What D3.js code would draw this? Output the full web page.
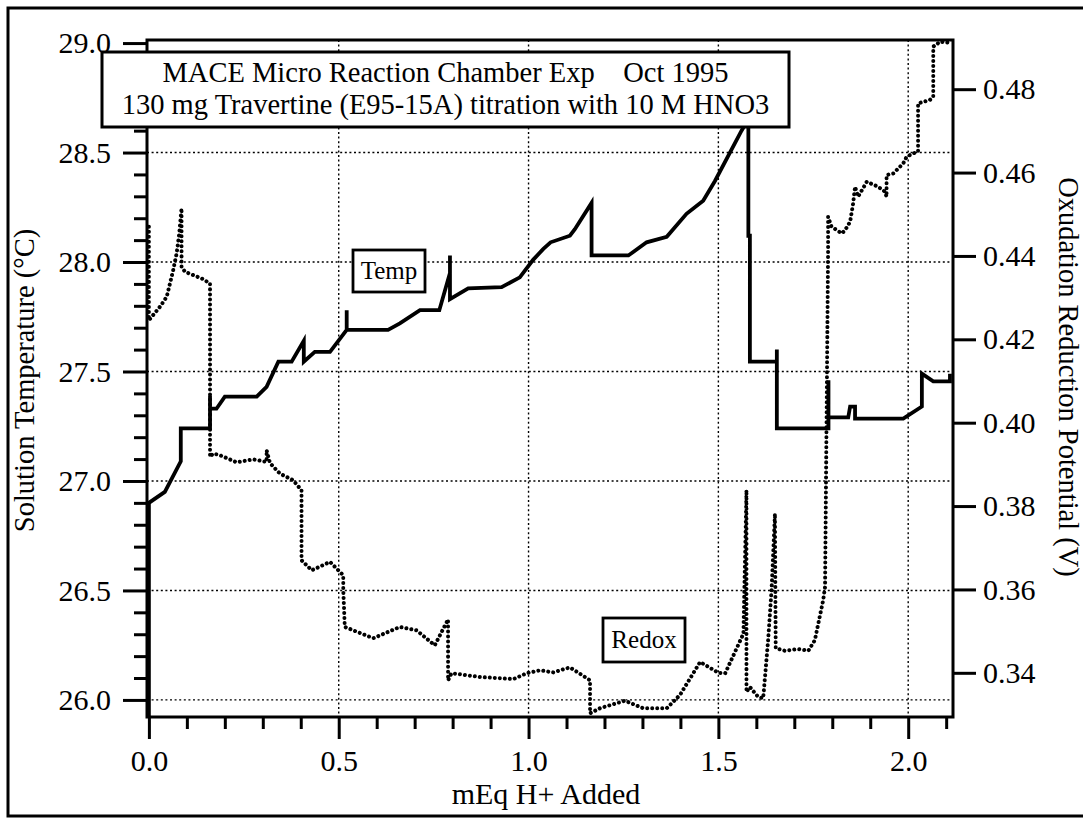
<!DOCTYPE html>
<html>
<head>
<meta charset="utf-8">
<script src="https://cdn.jsdelivr.net/npm/d3@7"></script>
<style>
  html, body { margin: 0; padding: 0; background: #fff; }
  svg { display: block; font-family: "Liberation Serif", "Times New Roman", serif; }
</style>
</head>
<body>
<div id="chart"></div>
<script>
// Titration data
const tempMeq = [0, 0, 0.042, 0.084, 0.084, 0.161, 0.161, 0.161, 0.178, 0.200, 0.284, 0.310, 0.341, 0.376, 0.408, 0.408, 0.437, 0.477, 0.521, 0.521, 0.521, 0.630, 0.661, 0.714, 0.765, 0.793, 0.793, 0.793, 0.841, 0.929, 0.977, 1.012, 1.039, 1.058, 1.109, 1.122, 1.166, 1.166, 1.263, 1.311, 1.364, 1.416, 1.460, 1.491, 1.561, 1.575, 1.579, 1.579, 1.583, 1.583, 1.654, 1.654, 1.654, 1.790, 1.790, 1.790, 1.842, 1.847, 1.860, 1.860, 1.987, 2.036, 2.036, 2.066, 2.110, 2.110];
const tempC = [25.90, 26.90, 26.95, 27.09, 27.24, 27.24, 27.39, 27.33, 27.33, 27.385, 27.385, 27.43, 27.545, 27.545, 27.64, 27.545, 27.59, 27.59, 27.69, 27.78, 27.69, 27.69, 27.72, 27.78, 27.78, 27.95, 28.03, 27.83, 27.88, 27.885, 27.93, 28.01, 28.06, 28.09, 28.12, 28.15, 28.27, 28.03, 28.03, 28.09, 28.115, 28.22, 28.28, 28.37, 28.60, 28.64, 28.64, 28.12, 28.12, 27.545, 27.545, 27.60, 27.24, 27.24, 27.46, 27.29, 27.29, 27.34, 27.34, 27.285, 27.285, 27.34, 27.49, 27.455, 27.455, 27.49];

const redoxMeq = [0, 0, 0.029, 0.047, 0.064, 0.073, 0.080, 0.086, 0.086, 0.095, 0.139, 0.161, 0.161, 0.169, 0.187, 0.231, 0.275, 0.310, 0.310, 0.319, 0.345, 0.380, 0.402, 0.402, 0.429, 0.477, 0.512, 0.512, 0.516, 0.538, 0.591, 0.661, 0.705, 0.753, 0.788, 0.788, 0.797, 0.872, 0.960, 0.995, 1.030, 1.065, 1.109, 1.162, 1.162, 1.188, 1.254, 1.302, 1.364, 1.399, 1.452, 1.500, 1.518, 1.566, 1.574, 1.574, 1.583, 1.605, 1.618, 1.631, 1.640, 1.649, 1.651, 1.675, 1.710, 1.737, 1.754, 1.776, 1.781, 1.789, 1.789, 1.798, 1.812, 1.825, 1.834, 1.847, 1.855, 1.860, 1.868, 1.891, 1.921, 1.939, 1.943, 1.943, 1.961, 1.987, 1.996, 2.013, 2.026, 2.026, 2.057, 2.066, 2.066, 2.084, 2.110];
const redoxV = [0.447, 0.4246, 0.4278, 0.4302, 0.4366, 0.4406, 0.4454, 0.4514, 0.4374, 0.4362, 0.4346, 0.4334, 0.3918, 0.3926, 0.3922, 0.3905, 0.3912, 0.3906, 0.3934, 0.3903, 0.3878, 0.3862, 0.3838, 0.3670, 0.3646, 0.3666, 0.3634, 0.3598, 0.3510, 0.3502, 0.3483, 0.3510, 0.3502, 0.3466, 0.3528, 0.3382, 0.3399, 0.3390, 0.3385, 0.3399, 0.3406, 0.3401, 0.3413, 0.3382, 0.3303, 0.3315, 0.3333, 0.3315, 0.3315, 0.3347, 0.3426, 0.3400, 0.3399, 0.3494, 0.3838, 0.3354, 0.3366, 0.3342, 0.3339, 0.3478, 0.3598, 0.3782, 0.3459, 0.3453, 0.3457, 0.3453, 0.3478, 0.3574, 0.3606, 0.4414, 0.4494, 0.4470, 0.4462, 0.4454, 0.4462, 0.4482, 0.4526, 0.4566, 0.4542, 0.4578, 0.4566, 0.4554, 0.4542, 0.4594, 0.4598, 0.4622, 0.4638, 0.4646, 0.4650, 0.4766, 0.4774, 0.4782, 0.4902, 0.4914, 0.4911];

const xMajor = [0, 0.5, 1.0, 1.5, 2.0];
const xMinor = [0.1, 0.2, 0.3, 0.4, 0.6, 0.7, 0.8, 0.9, 1.1, 1.2, 1.3, 1.4, 1.6, 1.7, 1.8, 1.9, 2.1];
const tempMajor = [26.0, 26.5, 27.0, 27.5, 28.0, 28.5, 29.0];
const tempMinor = d3.range(260, 291).filter(d => d % 5 !== 0).map(d => d / 10);
const redoxMajor = [0.34, 0.36, 0.38, 0.40, 0.42, 0.44, 0.46, 0.48];
const titleLines = ["MACE Micro Reaction Chamber Exp    Oct 1995", "130 mg Travertine (E95-15A) titration with 10 M HNO3"];

const width = 1083, height = 818;
const plot = { left: 147, right: 953, top: 40, bottom: 717 };

const svg = d3.select("#chart").append("svg")
  .attr("width", width).attr("height", height);

// outer frame (right side runs off the page like the scan)
svg.append("rect")
  .attr("x", 8).attr("y", 8).attr("width", 1100).attr("height", 808)
  .attr("fill", "none").attr("stroke", "#000").attr("stroke-width", 3);

// scales
const x = d3.scaleLinear().domain([-0.005, 2.118]).range([plot.left, plot.right]);
const yT = d3.scaleLinear().domain([25.922, 29.014]).range([plot.bottom, plot.top]);
const yR = d3.scaleLinear().domain([0.3294, 0.4918]).range([plot.bottom, plot.top]);

// grid
const grid = svg.append("g").attr("stroke", "#000").attr("stroke-width", 1.4)
  .attr("stroke-dasharray", "2 2.6");
grid.selectAll(".gx").data(xMajor.slice(1)).join("line")
  .attr("x1", d => x(d)).attr("x2", d => x(d))
  .attr("y1", plot.top).attr("y2", plot.bottom);
grid.selectAll(".gy").data(tempMajor.slice(0, -1)).join("line")
  .attr("x1", plot.left).attr("x2", plot.right)
  .attr("y1", d => yT(d)).attr("y2", d => yT(d));

// clip
svg.append("clipPath").attr("id", "clip").append("rect")
  .attr("x", plot.left).attr("y", plot.top)
  .attr("width", plot.right - plot.left).attr("height", plot.bottom - plot.top);

// Redox line (dotted)
const redoxData = redoxMeq.map((m, i) => [m, redoxV[i]]);
svg.append("path")
  .attr("clip-path", "url(#clip)")
  .attr("d", d3.line().x(d => x(d[0])).y(d => yR(d[1]))(redoxData))
  .attr("fill", "none").attr("stroke", "#000").attr("stroke-width", 4)
  .attr("stroke-linecap", "round").attr("stroke-dasharray", "0.01 5");

// Temp line (solid)
const tempData = tempMeq.map((m, i) => [m, tempC[i]]);
svg.append("path")
  .attr("clip-path", "url(#clip)")
  .attr("d", d3.line().x(d => x(d[0])).y(d => yT(d[1]))(tempData))
  .attr("fill", "none").attr("stroke", "#000").attr("stroke-width", 3.8)
  .attr("stroke-linejoin", "miter");

// axes
function styleAxis(g, size) {
  g.select(".domain").remove();
  g.selectAll(".tick line").attr("stroke-width", 3);
  g.selectAll(".tick text").attr("font-size", size).attr("fill", "#000")
    .attr("font-family", "'Liberation Serif', 'Times New Roman', serif");
}

svg.append("g").attr("transform", `translate(${plot.left},0)`)
  .call(d3.axisLeft(yT).tickValues(tempMinor).tickSize(13).tickFormat(""))
  .call(g => styleAxis(g, 30));
svg.append("g").attr("transform", `translate(${plot.left},0)`)
  .call(d3.axisLeft(yT).tickValues(tempMajor).tickSize(24).tickPadding(12).tickFormat(d3.format(".1f")))
  .call(g => styleAxis(g, 30));

svg.append("g").attr("transform", `translate(0,${plot.bottom})`)
  .call(d3.axisBottom(x).tickValues(xMinor).tickSize(12).tickFormat(""))
  .call(g => styleAxis(g, 30));
svg.append("g").attr("transform", `translate(0,${plot.bottom})`)
  .call(d3.axisBottom(x).tickValues(xMajor).tickSize(22).tickPadding(11).tickFormat(d3.format(".1f")))
  .call(g => styleAxis(g, 30));

svg.append("g").attr("transform", `translate(${plot.right},0)`)
  .call(d3.axisRight(yR).tickValues(redoxMajor).tickSize(23).tickPadding(7).tickFormat(d3.format(".2f")))
  .call(g => styleAxis(g, 30));

// plot frame
svg.append("rect")
  .attr("x", plot.left).attr("y", plot.top)
  .attr("width", plot.right - plot.left).attr("height", plot.bottom - plot.top)
  .attr("fill", "none").attr("stroke", "#000").attr("stroke-width", 3);

// axis titles
svg.append("text")
  .attr("transform", `translate(34,${(plot.top + plot.bottom) / 2 + 2}) rotate(-90)`)
  .attr("text-anchor", "middle").attr("font-size", 28.5)
  .text("Solution Temperature (°C)");

svg.append("text")
  .attr("transform", `translate(1059,377) rotate(90)`)
  .attr("text-anchor", "middle").attr("font-size", 28.5)
  .text("Oxudation Reduction Potential (V)");

svg.append("text")
  .attr("x", 546).attr("y", 804)
  .attr("text-anchor", "middle").attr("font-size", 30)
  .text("mEq H+ Added");

// title box
svg.append("rect")
  .attr("x", 102).attr("y", 52).attr("width", 687).attr("height", 75)
  .attr("fill", "#fff").attr("stroke", "#000").attr("stroke-width", 3);
svg.append("text")
  .attr("text-anchor", "middle").attr("font-size", 28.5)
  .style("white-space", "pre")
  .selectAll("tspan").data(titleLines).join("tspan")
  .attr("x", 445.5).attr("y", (d, i) => 82 + i * 31.5)
  .text(d => d);

// series labels
function labelBox(cx, cy, w, h, txt) {
  svg.append("rect")
    .attr("x", cx - w / 2).attr("y", cy - h / 2).attr("width", w).attr("height", h)
    .attr("fill", "#fff").attr("stroke", "#000").attr("stroke-width", 2.8);
  svg.append("text")
    .attr("x", cx).attr("y", cy + 8)
    .attr("text-anchor", "middle").attr("font-size", 25)
    .text(txt);
}
labelBox(389, 271, 72, 42, "Temp");
labelBox(644, 640, 82, 44, "Redox");
</script>
</body>
</html>
